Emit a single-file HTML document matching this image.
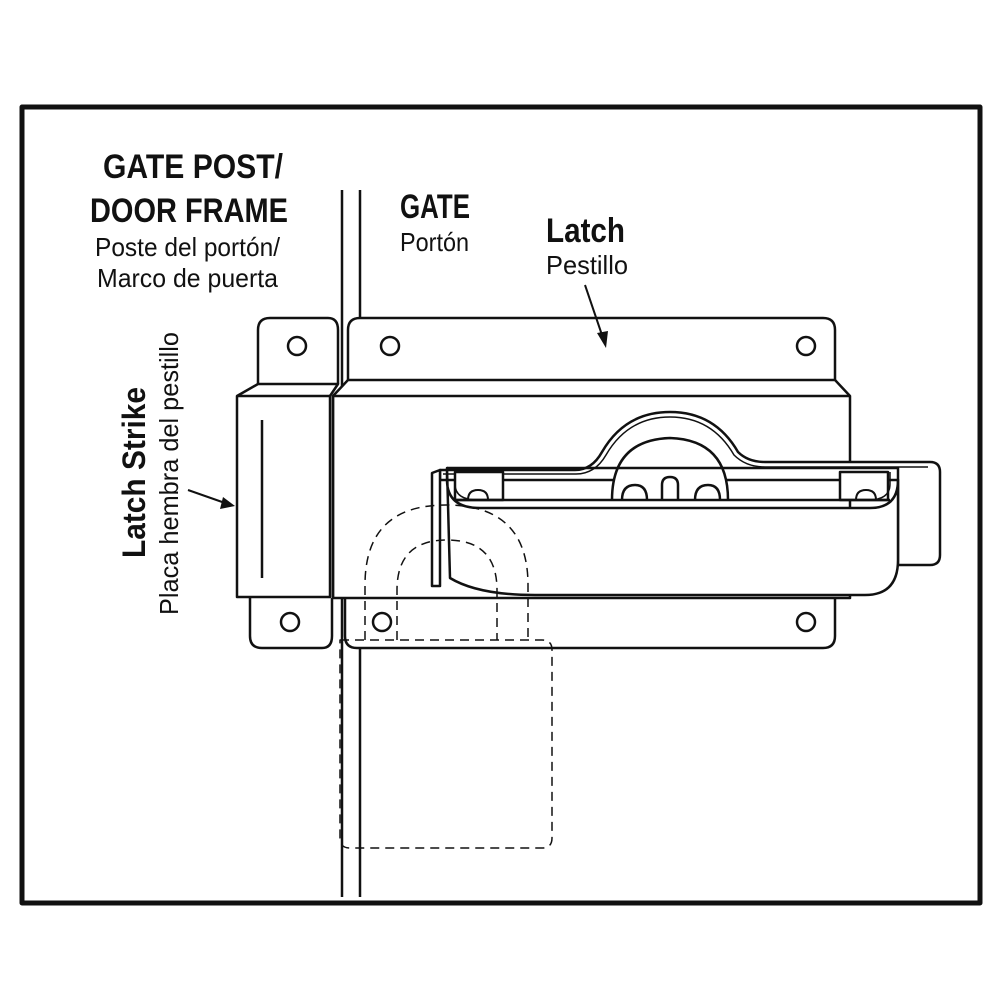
<!DOCTYPE html>
<html><head><meta charset="utf-8"><style>html,body{margin:0;padding:0;background:#fff}svg{display:block}</style></head>
<body>
<svg width="1000" height="1000" viewBox="0 0 1000 1000" xmlns="http://www.w3.org/2000/svg" font-family="'Liberation Sans Narrow','Liberation Sans',sans-serif" fill="none" stroke="#111" stroke-width="2.5" stroke-linejoin="round">
<rect x="0" y="0" width="1000" height="1000" fill="#fff" stroke="none"/>
<rect x="22" y="107" width="958" height="796" stroke-width="5"/>
<line x1="342" y1="190" x2="342" y2="897"/>
<line x1="360" y1="190" x2="360" y2="897"/>
<!-- top plates -->
<path d="M258 384 V330 Q258 318 270 318 H328 Q338 318 338 330 V384" fill="#fff"/>
<path d="M348 380 V330 Q348 318 360 318 H823 Q835 318 835 330 V380" fill="#fff"/>
<circle cx="297" cy="346" r="9"/><circle cx="390" cy="346" r="9"/><circle cx="806" cy="346" r="9"/>
<!-- bottom plates -->
<path d="M250 598 V636 Q250 648 262 648 H322 Q332 648 332 636 V598" fill="#fff"/>
<path d="M345 598 V636 Q345 648 357 648 H823 Q835 648 835 636 V598" fill="#fff"/>
<circle cx="290" cy="622" r="9"/><circle cx="382" cy="622" r="9"/><circle cx="806" cy="622" r="9"/>
<!-- body -->
<path d="M348 380 H835 L850 396 V598 H333 V396 Z" fill="#fff"/>
<line x1="333" y1="396" x2="850" y2="396"/>
<!-- strike front -->
<path d="M237 396 L258 384 H338 L330 396 V597 H237 Z" fill="#fff"/>
<line x1="237" y1="396" x2="330" y2="396"/>
<line x1="262" y1="420" x2="262" y2="578"/>
<line x1="333" y1="396" x2="333" y2="598"/>
<!-- handle back bar -->
<path d="M440 470 H575 Q592 470 602 452 Q625 412 670 412 Q715 412 738 452 Q748 462 765 462 H930 Q940 462 940 472 V555 Q940 565 930 565 H898 V480 H440 Z" fill="#fff"/>
<path d="M443 474 H576 Q595 474 606 455 Q628 417 670 417 Q712 417 734 455 Q746 467 765 467 H928" stroke-width="1.5"/>
<!-- hub -->
<path d="M612 500 Q612 440 670 438 Q728 440 728 500" fill="#fff"/>
<path d="M622 500 Q622 485 635 485 Q647 485 647 500"/><path d="M695 500 Q695 485 708 485 Q720 485 720 500"/>
<path d="M662 500 V485 Q662 477 670 477 Q678 477 678 485 V500"/>
<!-- cup posts -->
<rect x="455" y="472" width="48" height="28" fill="#fff"/>
<rect x="840" y="472" width="48" height="28" fill="#fff"/>
<path d="M468 500 Q468 490 478 490 Q488 490 488 500" stroke-width="2"/>
<path d="M856 500 Q856 490 866 490 Q876 490 876 500" stroke-width="2"/>
<line x1="455" y1="500" x2="890" y2="500"/>
<!-- cup front -->
<path d="M447 468 V480 Q447 508 480 508 H870 Q898 508 898 480 V560 Q898 595 865 595 H535 Q478 595 450 578 Z" fill="#fff"/>
<path d="M447 468 H898 V480" />
<path d="M455 472 V484 Q455 500 478 500" stroke-width="1.5"/>
<path d="M890 472 V484 Q890 500 868 500" stroke-width="1.5"/>
<path d="M440 470 L432 473 V586 H440 Z" fill="#fff"/>
<!-- dashed padlock -->
<g stroke-dasharray="9,6" stroke-width="1.5">
<path d="M340 640 H542 Q552 640 552 650 V838 Q552 848 542 848 H350 Q340 848 340 838 Z"/>
<path d="M365 640 V585 Q365 505 446 505 Q528 505 528 585 V640"/>
<path d="M397 640 V590 Q397 540 447 540 Q497 540 497 590 V640"/>
</g>
<!-- arrows -->
<line x1="585" y1="285" x2="603" y2="338" stroke-width="2"/>
<path d="M606 348 L597 333 L608 331 Z" fill="#111" stroke="none"/>
<line x1="188" y1="490" x2="225" y2="503" stroke-width="2"/>
<path d="M235 506 L220 509 L223 497 Z" fill="#111" stroke="none"/>
<g fill="#111" stroke="none">
<text x="103" y="178" font-size="34" font-weight="bold" textLength="180" lengthAdjust="spacingAndGlyphs">GATE POST/</text>
<text x="90" y="222" font-size="34" font-weight="bold" textLength="198" lengthAdjust="spacingAndGlyphs">DOOR FRAME</text>
<text x="95" y="256" font-size="26" textLength="185" lengthAdjust="spacingAndGlyphs">Poste del portón/</text>
<text x="97" y="287" font-size="26" textLength="181" lengthAdjust="spacingAndGlyphs">Marco de puerta</text>
<text x="400" y="218" font-size="34" font-weight="bold" textLength="70" lengthAdjust="spacingAndGlyphs">GATE</text>
<text x="400" y="251" font-size="26" textLength="69" lengthAdjust="spacingAndGlyphs">Portón</text>
<text x="546" y="242" font-size="34" font-weight="bold" textLength="79" lengthAdjust="spacingAndGlyphs">Latch</text>
<text x="546" y="274" font-size="26" textLength="82" lengthAdjust="spacingAndGlyphs">Pestillo</text>
<text transform="translate(145,558) rotate(-90)" font-size="32" font-weight="bold" textLength="171" lengthAdjust="spacingAndGlyphs">Latch Strike</text>
<text transform="translate(178,615) rotate(-90)" font-size="26" textLength="283" lengthAdjust="spacingAndGlyphs">Placa hembra del pestillo</text>
</g>
</svg>
</body></html>
